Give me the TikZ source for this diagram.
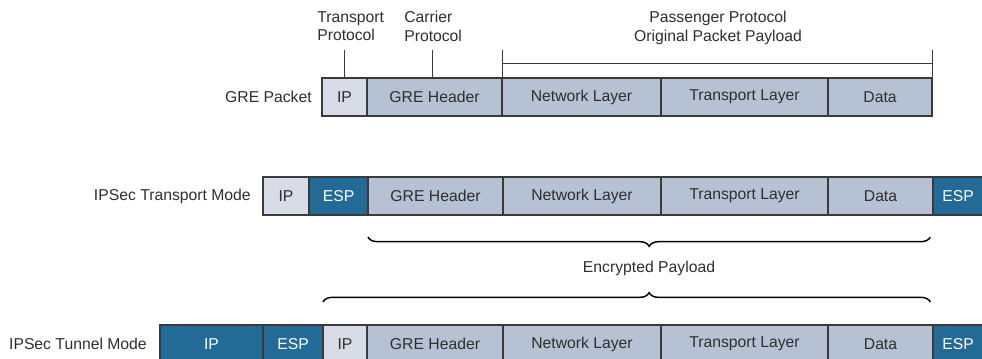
\documentclass[tikz,border=0pt]{standalone}
\usepackage{fontspec}
\setmainfont{Liberation Sans}
\usetikzlibrary{positioning, decorations.pathreplacing}

\definecolor{ipfill}{HTML}{D8DCE6}
\definecolor{grefill}{HTML}{B6C2D4}
\definecolor{espfill}{HTML}{236A97}
\definecolor{edge}{HTML}{3A3A3A}
\definecolor{txt}{HTML}{2E2E2E}

\tikzset{
    cell/.style={draw=edge, line width=0.8pt, minimum height=28.5pt, inner sep=0pt, outer sep=0pt, text=txt},
    ipcell/.style={cell, fill=ipfill},
    grecell/.style={cell, fill=grefill},
    espcell/.style={cell, fill=espfill, text=white},
    rowlabel/.style={inner sep=0pt, text=txt},
    toplabel/.style={inner sep=0pt, text=txt, align=left},
    tick/.style={draw=edge, line width=0.6pt},
    brace/.style={decorate, decoration={brace, amplitude=7pt}, draw=black, line width=1.1pt}
}

\begin{document}
\begin{tikzpicture}[x=0.75pt, y=-0.75pt, font=\fontsize{11.8}{14}\selectfont]
    \useasboundingbox (0,0) rectangle (982,358);
    \clip (0,0) rectangle (982,358);

    % GRE packet
    \node[ipcell, minimum width=33.75pt, anchor=west] (r1ip) at (322,97) {IP};
    \node[grecell, minimum width=101.25pt, right=0pt of r1ip] (r1gre) {GRE Header};
    \node[grecell, minimum width=119.25pt, right=0pt of r1gre] (r1net) {Network Layer};
    \node[grecell, minimum width=125.25pt, right=0pt of r1net] (r1trn) {Transport Layer};
    \node[grecell, minimum width=78pt, right=0pt of r1trn] (r1dat) {Data};
    \node[rowlabel, left=7.5pt of r1ip] (r1lab) {GRE Packet};

    % Labels above the GRE packet
    \node[toplabel, anchor=north west] (tplab) at (317,11) {Transport\\Protocol};
    \node[toplabel, anchor=north west] (cplab) at (404,11) {Carrier\\Protocol};
    \node[toplabel, align=center, anchor=north] (pplab) at (718,11) {Passenger Protocol\\Original Packet Payload};
    \draw[tick] (r1ip.north) -- ++(0,-28);
    \draw[tick] ([xshift=-1.9pt]r1gre.north) -- ++(0,-28);
    \draw[tick] (r1net.north west) -- ++(0,-28);
    \draw[tick] (r1dat.north east) -- ++(0,-28);
    \draw[tick] ([yshift=11.25pt]r1net.north west) -- ([yshift=11.25pt]r1dat.north east);

    % IPSec transport mode
    \node[ipcell, minimum width=34.5pt, anchor=west] (r2ip) at (263,196) {IP};
    \node[espcell, minimum width=44.25pt, right=0pt of r2ip] (r2esp) {ESP};
    \node[grecell, minimum width=101.25pt, right=0pt of r2esp] (r2gre) {GRE Header};
    \node[grecell, minimum width=118.5pt, right=0pt of r2gre] (r2net) {Network Layer};
    \node[grecell, minimum width=125.25pt, right=0pt of r2net] (r2trn) {Transport Layer};
    \node[grecell, minimum width=78.75pt, right=0pt of r2trn] (r2dat) {Data};
    \node[espcell, minimum width=37.5pt, right=0pt of r2dat] (r2tail) {ESP};
    \node[rowlabel, left=9pt of r2ip] (r2lab) {IPSec Transport Mode};

    % Encrypted payload braces
    \draw[brace, decoration={mirror}] ([yshift=-16.5pt]r2gre.south west) -- ([xshift=-2pt, yshift=-16.5pt]r2dat.south east);
    \node[rowlabel] (enc) at (649,268) {Encrypted Payload};

    % IPSec tunnel mode
    \node[espcell, minimum width=77.25pt, anchor=west] (r3out) at (160,344) {IP};
    \node[espcell, minimum width=45pt, right=0pt of r3out] (r3esp) {ESP};
    \node[ipcell, minimum width=33pt, right=0pt of r3esp] (r3ip) {IP};
    \node[grecell, minimum width=102pt, right=0pt of r3ip] (r3gre) {GRE Header};
    \node[grecell, minimum width=118.5pt, right=0pt of r3gre] (r3net) {Network Layer};
    \node[grecell, minimum width=125.25pt, right=0pt of r3net] (r3trn) {Transport Layer};
    \node[grecell, minimum width=78.75pt, right=0pt of r3trn] (r3dat) {Data};
    \node[espcell, minimum width=37.5pt, right=0pt of r3dat] (r3tail) {ESP};
    \node[rowlabel, left=9.75pt of r3out] (r3lab) {IPSec Tunnel Mode};

    \draw[brace, decoration={aspect=0.537}] ([yshift=17.25pt]r3ip.north west) -- ([xshift=-2pt, yshift=17.25pt]r3dat.north east);

\end{tikzpicture}
\end{document}
